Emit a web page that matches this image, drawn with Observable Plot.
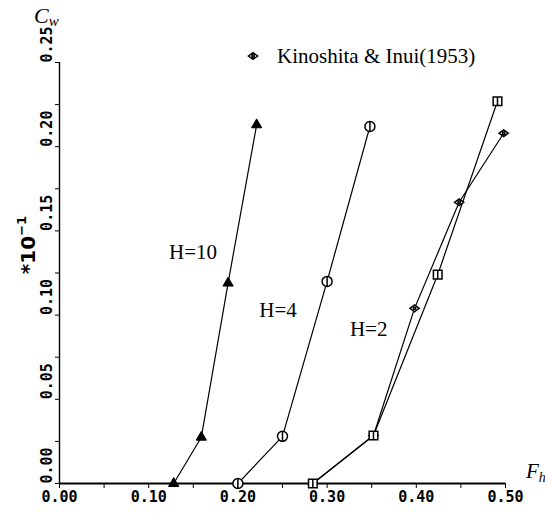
<!DOCTYPE html>
<html><head><meta charset="utf-8">
<script src="https://cdn.jsdelivr.net/npm/d3@7"></script>
<script src="https://cdn.jsdelivr.net/npm/@observablehq/plot@0.6"></script>
<style>body{margin:0;background:#fff}</style>
</head><body><div id="chart"></div>
<script>
// ---- data ----
const seriesNames = ["H=10", "H=4", "H=2", "Kinoshita & Inui(1953)"];
const h10Fh = [0.128, 0.159, 0.189, 0.221];
const h10Cw = [0.000, 0.0275, 0.119, 0.213];
const h4Fh  = [0.200, 0.250, 0.300, 0.348];
const h4Cw  = [0.000, 0.028, 0.120, 0.212];
const h2Fh  = [0.284, 0.352, 0.424, 0.491];
const h2Cw  = [0.000, 0.0285, 0.124, 0.227];
const kiFh  = [0.284, 0.352, 0.398, 0.448, 0.498];
const kiCw  = [0.000, 0.0285, 0.104, 0.167, 0.208];
const xTicks = [0, 0.05, 0.10, 0.15, 0.20, 0.25, 0.30, 0.35, 0.40, 0.45, 0.50];
const xTickLabels = ["0.00", "", "0.10", "", "0.20", "", "0.30", "", "0.40", "", "0.50"];
const yTicks = [0, 0.025, 0.05, 0.075, 0.10, 0.125, 0.15, 0.175, 0.20, 0.225, 0.25];
const yTickLabels = ["0.00", "", "0.05", "", "0.10", "", "0.15", "", "0.20", "", "0.25"];
const yScaleNote = "*10";
const yScaleExp = "\u22121";
const xName = "F", xSub = "h";
const yName = "C", ySub = "w";

const rows = (name, xs, ys) => xs.map((x, i) => ({series: name, Fh: x, Cw: ys[i]}));
const h10 = rows(seriesNames[0], h10Fh, h10Cw);
const h4 = rows(seriesNames[1], h4Fh, h4Cw);
const h2 = rows(seriesNames[2], h2Fh, h2Cw);
const ki = rows(seriesNames[3], kiFh, kiCw);

// custom marker shapes
const circleBar = {draw(ctx, size) { const r = Math.sqrt(size / Math.PI); ctx.moveTo(r, 0); ctx.arc(0, 0, r, 0, 2 * Math.PI); ctx.moveTo(0, -r); ctx.lineTo(0, r); }};
const squareBar = {draw(ctx, size) { const r = Math.sqrt(size / Math.PI) * 0.9; ctx.rect(-r, -r, 2 * r, 2 * r); ctx.moveTo(0, -r); ctx.lineTo(0, r); }};
const diamondW = {draw(ctx, size) { const r = Math.sqrt(size / Math.PI); const w = r * 1.15, h = r * 0.85; ctx.moveTo(-w, 0); ctx.lineTo(0, -h); ctx.lineTo(w, 0); ctx.lineTo(0, h); ctx.closePath(); ctx.moveTo(r * 0.3, 0); ctx.arc(0, 0, r * 0.3, 0, 2 * Math.PI); }};

const serif = "'Liberation Serif', 'Times New Roman', serif";
const mono = "'DejaVu Sans Mono', 'Liberation Mono', monospace";
const lineOpts = {x: "Fh", y: "Cw", stroke: "black", strokeWidth: 1.2};

const plot = Plot.plot({
  width: 545, height: 522,
  marginLeft: 59, marginRight: 40, marginTop: 62, marginBottom: 39,
  x: {domain: [0, 0.5]},
  y: {domain: [0, 0.25]},
  style: {background: "white", color: "black", fontFamily: mono, fontSize: "15px", overflow: "visible"},
  marks: [
    Plot.axisX({ticks: xTicks, tickSize: 5, tickPadding: 3, label: null, fontFamily: mono, fontSize: 15, fontWeight: "bold",
      tickFormat: d => xTickLabels[xTicks.findIndex(t => Math.abs(t - d) < 1e-9)]}),
    Plot.axisY({ticks: yTicks, tickSize: 4, tickPadding: 4, tickRotate: -90, textAnchor: "start", label: null, fontFamily: mono, fontSize: 15, fontWeight: "bold",
      tickFormat: d => yTickLabels[yTicks.findIndex(t => Math.abs(t - d) < 1e-9)]}),
    Plot.ruleY([0], {strokeWidth: 2.2}),
    Plot.ruleX([0], {strokeWidth: 1.4}),
    Plot.line(h10, lineOpts),
    Plot.line(h4, lineOpts),
    Plot.line(h2, lineOpts),
    Plot.line(ki, lineOpts),
    Plot.dot(h10, {x: "Fh", y: "Cw", symbol: "triangle", r: 3.8, fill: "black", stroke: "black", strokeWidth: 1}),
    Plot.dot(h4, {x: "Fh", y: "Cw", symbol: circleBar, r: 5, fill: "white", stroke: "black", strokeWidth: 1.5}),
    Plot.dot(ki, {x: "Fh", y: "Cw", symbol: diamondW, r: 4, fill: "white", stroke: "black", strokeWidth: 1.5}),
    Plot.dot(h2, {x: "Fh", y: "Cw", symbol: squareBar, r: 4.8, fill: "white", stroke: "black", strokeWidth: 1.5}),
    Plot.text([h10[2]], {x: "Fh", y: "Cw", text: "series", dx: -35, dy: -31, fontFamily: serif, fontSize: 21}),
    Plot.text([h4[2]], {x: "Fh", y: "Cw", text: "series", dx: -49, dy: 29, fontFamily: serif, fontSize: 21}),
    Plot.text([h2[2]], {x: "Fh", y: "Cw", text: "series", dx: -69, dy: 55, fontFamily: serif, fontSize: 21})
  ]
});
document.getElementById("chart").appendChild(plot);

// annotations: legend, axis names, scale note
const svg = d3.select(plot);
const g = svg.append("g").attr("text-anchor", "start");
g.append("path").attr("d", d3.symbol(diamondW, Math.PI * 16)()).attr("transform", "translate(253,56)")
  .attr("fill", "white").attr("stroke", "black").attr("stroke-width", 1.5);
g.append("text").attr("x", 277).attr("y", 63).attr("font-family", serif).attr("font-size", 21)
  .text(seriesNames[3]);

const cw = g.append("text").attr("x", 34).attr("y", 23).attr("font-family", serif).attr("font-style", "italic")
  .attr("font-size", 22);
cw.append("tspan").text(yName);
cw.append("tspan").attr("font-size", 15).attr("dy", 3).text(ySub);

const fh = g.append("text").attr("x", 526).attr("y", 478).attr("font-family", serif).attr("font-style", "italic")
  .attr("font-size", 21);
fh.append("tspan").text(xName);
fh.append("tspan").attr("font-size", 14).attr("dy", 4).text(xSub);

const note = g.append("text").attr("transform", "translate(35,245) rotate(-90)").attr("text-anchor", "middle")
  .attr("font-family", "'DejaVu Sans', sans-serif").attr("font-weight", "bold").attr("font-size", 20);
note.append("tspan").text(yScaleNote);
note.append("tspan").attr("font-size", 13).attr("dy", -9).text(yScaleExp);
</script>
</body></html>
